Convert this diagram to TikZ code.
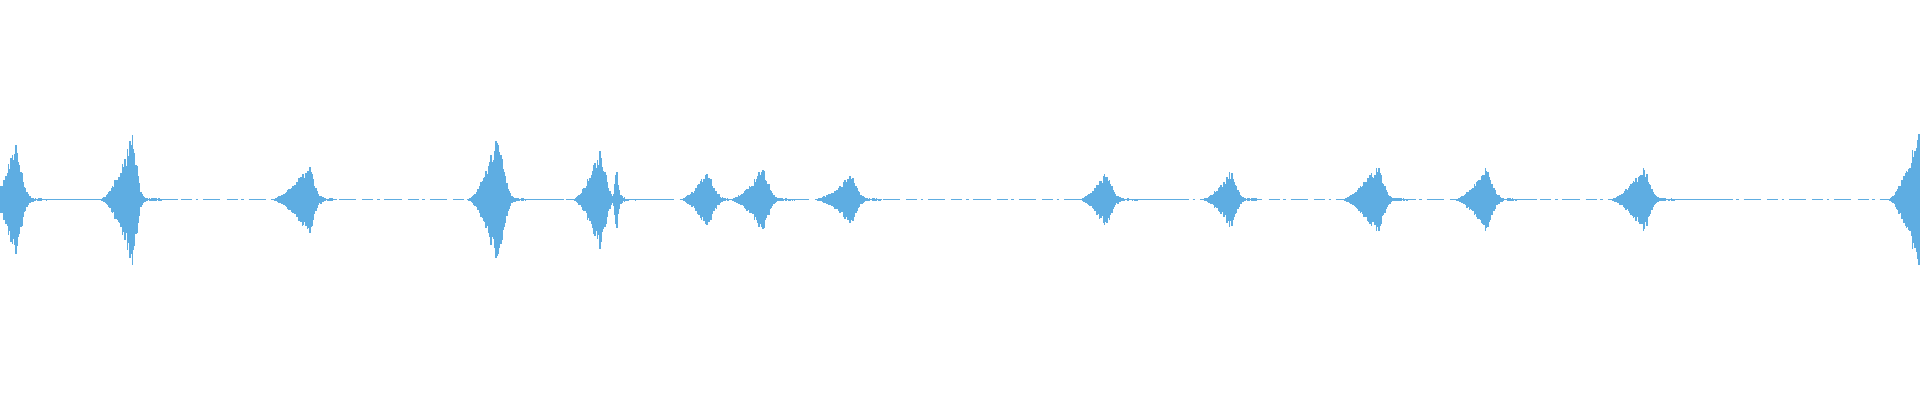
\documentclass[tikz,border=0pt]{standalone}
\definecolor{wave}{RGB}{94,173,226}
\begin{document}
\begin{tikzpicture}[x=1pt,y=-1pt]
\useasboundingbox (0,0) rectangle (1568,326.7);
\pgfmathsetseed{7}
\draw[wave,line width=0.8pt,dash pattern=on 9pt off 3pt on 2pt off 4pt on 14pt off 5pt] (0,163) -- (1568,163);
\foreach \s/\p/\e/\A/\t in {-8/12/75/43/7, 82/108/145/53/5, 222/252/275/27/6, 382/406/460/51/7, 468/490/550/40/6, 500/503/510/27/2.5, 556/577/595/22/7, 596/622/660/23/7, 666/695/720/19/6, 882/902/965/21/7, 982/1005/1030/22/6, 1096/1124/1150/27/7, 1188/1213/1255/25/7, 1315/1342/1410/25/7, 1542/1566/1568/53/6}{
  \foreach \x in {\s,...,\e}{
    \pgfmathsetmacro\ra{((min(\x,\p)-\s)/(\p-\s))^1.6}
    \pgfmathsetmacro\dd{max(\x-\p,0)}
    \pgfmathsetmacro\de{exp(-(\dd/\t)^2)}
    \pgfmathsetmacro\h{\A*\ra*\de*(0.7+0.3*rnd)+3*exp(-\dd/12)*rnd*\ra+0.5}
    \fill[wave] (\x-0.6,163-\h) rectangle (\x+0.6,163+\h);
  }
}
\end{tikzpicture}
\end{document}
